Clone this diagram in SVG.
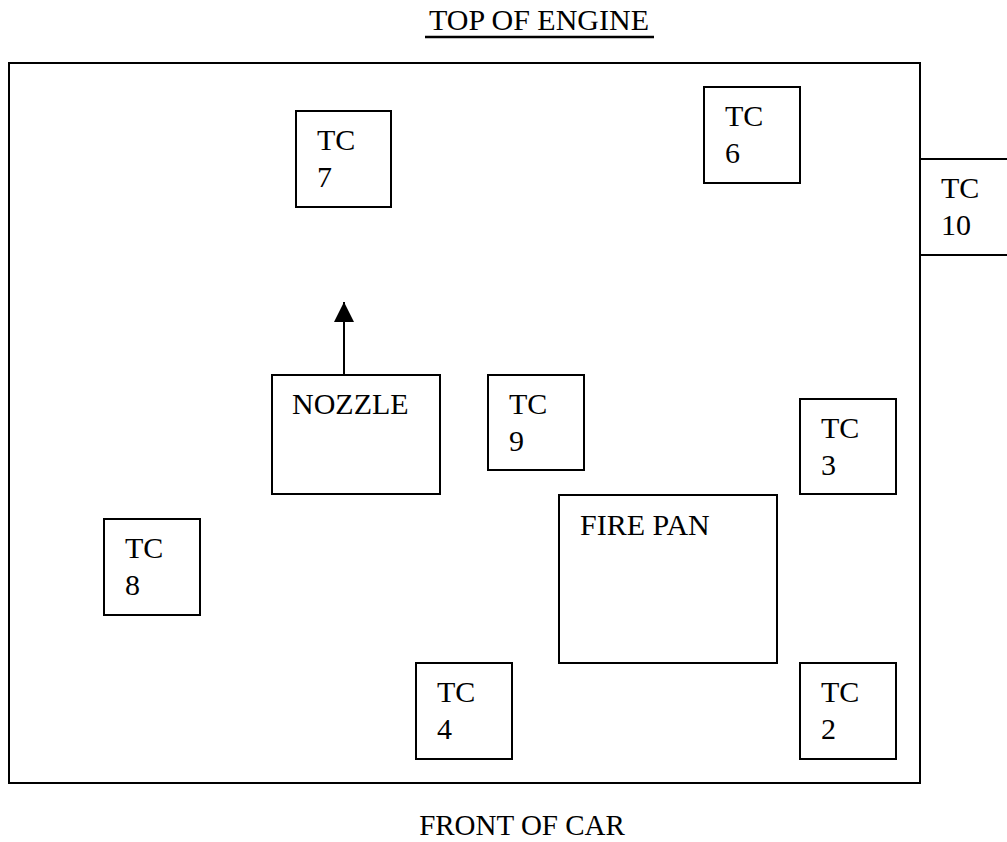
<svg xmlns="http://www.w3.org/2000/svg" width="1007" height="842" viewBox="0 0 1007 842">
<defs>
<style>
.t{font-family:"Liberation Serif","Times New Roman",serif;font-size:30px;fill:#000}
.b{fill:#fff;stroke:#000;stroke-width:2}
.l{stroke:#000;stroke-width:2;fill:none}
</style>
<marker id="ah" viewBox="0 0 20 20" refX="20" refY="10" markerWidth="20" markerHeight="20" markerUnits="userSpaceOnUse" orient="auto">
<path d="M0,0 L20,10 L0,20 Z" fill="#000"/>
</marker>
</defs>
<rect width="1007" height="842" fill="#fff"/>
<g id="title">
<text class="t" x="539" y="30" text-anchor="middle">TOP OF ENGINE</text>
<line class="l" x1="425" y1="37" x2="654" y2="37" style="stroke-width:2.5"/>
</g>
<g id="engine"><rect class="b" x="9" y="63" width="911" height="720"/></g>
<g id="tc10">
<path class="l" d="M920,159 H1010 M920,255 H1010"/>
<text class="t" x="941" y="198">TC</text><text class="t" x="941" y="235">10</text>
</g>
<g id="tc7"><rect class="b" x="296" y="111" width="95" height="96"/><text class="t" x="317" y="150">TC</text><text class="t" x="317" y="187">7</text></g>
<g id="tc6"><rect class="b" x="704" y="87" width="96" height="96"/><text class="t" x="725" y="126">TC</text><text class="t" x="725" y="163">6</text></g>
<g id="nozzle"><rect class="b" x="272" y="375" width="168" height="119"/><text class="t" x="292" y="414">NOZZLE</text></g>
<g id="tc9"><rect class="b" x="488" y="375" width="96" height="95"/><text class="t" x="509" y="414">TC</text><text class="t" x="509" y="451">9</text></g>
<g id="tc3"><rect class="b" x="800" y="399" width="96" height="95"/><text class="t" x="821" y="438">TC</text><text class="t" x="821" y="475">3</text></g>
<g id="firepan"><rect class="b" x="559" y="495" width="218" height="168"/><text class="t" x="580" y="535">FIRE PAN</text></g>
<g id="tc8"><rect class="b" x="104" y="519" width="96" height="96"/><text class="t" x="125" y="558">TC</text><text class="t" x="125" y="595">8</text></g>
<g id="tc4"><rect class="b" x="416" y="663" width="96" height="96"/><text class="t" x="437" y="702">TC</text><text class="t" x="437" y="739">4</text></g>
<g id="tc2"><rect class="b" x="800" y="663" width="96" height="96"/><text class="t" x="821" y="702">TC</text><text class="t" x="821" y="739">2</text></g>
<g id="footer"><text class="t" x="522" y="835" text-anchor="middle" style="font-size:29px">FRONT OF CAR</text></g>
<g id="connectors">
<line class="l" x1="344" y1="375" x2="344" y2="302" marker-end="url(#ah)"/>
</g>
</svg>
